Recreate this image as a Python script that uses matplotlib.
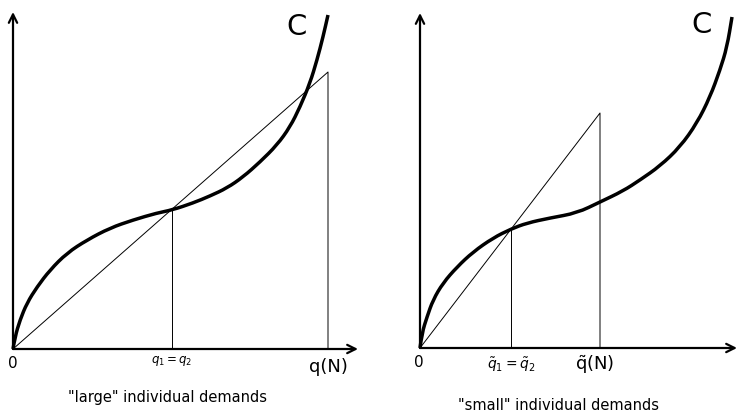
import matplotlib
matplotlib.use('Agg')
import matplotlib.pyplot as plt
from matplotlib.path import Path
from matplotlib.patches import PathPatch

plt.rcParams['font.family'] = ['DejaVu Sans']
plt.rcParams['mathtext.fontset'] = 'dejavusans'

# cost curve C (origin = (0, 0), units ~ pixels)
left_cx = [0, 2, 7, 14, 24, 37, 54, 74, 97, 120, 144, 159, 180, 197, 214, 230, 247, 264, 277, 287, 297, 304, 310, 315]
left_cy = [0, 12, 29, 46, 62, 79, 96, 109, 121, 129, 136, 139, 146, 153, 161, 172, 187, 204, 222, 242, 266, 289, 312, 334]
left_q1 = 159
left_qN = 315
left_top = 277   # height of the ray at q(N)

right_cx = [0, 2, 7, 13, 23, 37, 53, 73, 91, 107, 130, 157, 180, 203, 220, 240, 260, 277, 290, 300, 307, 312]
right_cy = [0, 15, 31, 48, 65, 81, 96, 110, 119, 125, 130, 135, 146, 157, 168, 182, 201, 225, 251, 278, 301, 331]
right_q1 = 91
right_qN = 180
right_top = 235

captions = ['"large" individual demands', '"small" individual demands']

fig = plt.figure(figsize=(7.38, 4.15), dpi=100)
axL = fig.add_axes([0, 0, 369 / 738, 1])
axR = fig.add_axes([369 / 738, 0, 369 / 738, 1])
axL.set_xlim(-13, 356)
axL.set_ylim(-66, 349)
axR.set_xlim(-51, 318)
axR.set_ylim(-67, 348)


def smooth_path(xs, ys):
    # quadratic bezier through the midpoints, read points act as control points
    verts = [(xs[0], ys[0])]
    codes = [Path.MOVETO]
    for k in range(1, len(xs) - 1):
        verts.append((xs[k], ys[k]))
        verts.append(((xs[k] + xs[k + 1]) / 2, (ys[k] + ys[k + 1]) / 2))
        codes += [Path.CURVE3, Path.CURVE3]
    verts.append((xs[-1], ys[-1]))
    codes.append(Path.LINETO)
    return Path(verts, codes)


def draw_panel(ax, cx, cy, q1, qN, top, xlen, ylen):
    ax.axis('off')
    arrow = dict(arrowstyle='->,head_length=0.6,head_width=0.3', lw=1.6, color='black',
                 shrinkA=0, shrinkB=0)
    ax.annotate('', xy=(xlen, 0), xytext=(0, 0), arrowprops=arrow)
    ax.annotate('', xy=(0, ylen), xytext=(0, 0), arrowprops=arrow)
    # ray from origin and the two verticals
    ax.plot([0, qN, qN], [0, top, 0], color='black', lw=0.7)
    i = cx.index(q1)
    ax.plot([q1, q1], [0, cy[i]], color='black', lw=0.7)
    ax.add_patch(PathPatch(smooth_path(cx, cy), facecolor='none', edgecolor='black',
                           lw=2.5, capstyle='butt'))


draw_panel(axL, left_cx, left_cy, left_q1, left_qN, left_top, 345, 337)
draw_panel(axR, right_cx, right_cy, right_q1, right_qN, right_top, 317, 335)

# left labels
axL.text(0, -14, '0', fontsize=11, ha='center', va='center')
axL.text(left_q1, -12, r'$q_1 = q_2$', fontsize=8.5, ha='center', va='center')
axL.text(left_qN, -18, 'q(N)', fontsize=13, ha='center', va='center')
axL.text(284, 322, 'C', fontsize=21, ha='center', va='center')
axL.text(154, -48, captions[0], fontsize=10.5, ha='center', va='center')

# right labels
axR.text(-1, -14, '0', fontsize=11, ha='center', va='center')
axR.text(right_q1, -17, r'$\tilde{q}_1 = \tilde{q}_2$', fontsize=10, ha='center', va='center')
axR.text(right_qN - 5, -17, r'$\tilde{\mathrm{q}}$(N)', fontsize=13, ha='center', va='center')
axR.text(282, 323, 'C', fontsize=21, ha='center', va='center')
axR.text(138, -57, captions[1], fontsize=10.5, ha='center', va='center')

fig.savefig('out.png', dpi=100)
